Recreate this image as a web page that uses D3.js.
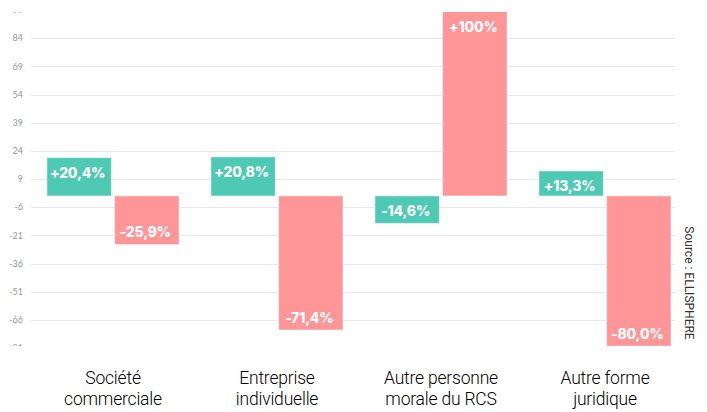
<!DOCTYPE html>
<html>
<head>
<meta charset="utf-8">
<script src="https://cdn.jsdelivr.net/npm/d3@7"></script>
<style>
  body { margin: 0; background: #fff; }
  svg { display: block; }
</style>
</head>
<body>
<svg></svg>
<script>
// data
var categories = [["Société", "commerciale"], ["Entreprise", "individuelle"], ["Autre personne", "morale du RCS"], ["Autre forme", "juridique"]];
var serieTeal = [20.4, 20.8, -14.6, 13.3];
var seriePink = [-25.9, -71.4, 100, -80.0];
var yTicks = [99, 84, 69, 54, 39, 24, 9, -6, -21, -36, -51, -66, -81];
var colors = ["#4ec9b4", "#fe9597"];

var width = 707, height = 412;
var plotTop = 12, plotBottom = 346;

var svg = d3.select("svg")
    .attr("width", width)
    .attr("height", height);

var y = d3.scaleLinear().domain([-81, 99]).range([348, 10.1]);
var x = d3.scaleBand().domain(d3.range(categories.length)).range([31, 687]).paddingInner(0.195).paddingOuter(0.0975);
var xs = d3.scaleBand().domain([0, 1]).range([0, x.bandwidth()]).paddingInner(0.05);

var defs = svg.append("defs");
defs.append("clipPath").attr("id", "plot")
    .append("rect").attr("x", 0).attr("y", plotTop).attr("width", width).attr("height", plotBottom - plotTop);

var plot = svg.append("g").attr("clip-path", "url(#plot)");

// grid
plot.selectAll(".grid")
    .data(yTicks)
    .enter().append("line")
    .attr("class", "grid")
    .attr("x1", 31).attr("x2", 675)
    .attr("y1", function(d) { return Math.round(y(d)) + 0.5; })
    .attr("y2", function(d) { return Math.round(y(d)) + 0.5; })
    .style("stroke", "#e8e8e8")
    .style("stroke-width", 1);

// tick labels
plot.selectAll(".tick")
    .data(yTicks)
    .enter().append("text")
    .attr("class", "tick")
    .attr("x", 23)
    .attr("y", function(d) { return y(d); })
    .attr("dy", "0.35em")
    .attr("text-anchor", "end")
    .style("font-family", "Lato, sans-serif")
    .style("font-size", "9px")
    .style("fill", "#999")
    .text(function(d) { return d; });

var bars = [];
for (var i = 0; i < categories.length; i++) {
    bars.push({c: i, s: 0, v: serieTeal[i]});
    bars.push({c: i, s: 1, v: seriePink[i]});
}

function fmt(v) {
    var a = Math.abs(v);
    var s = a >= 100 ? d3.format(".0f")(a) : d3.format(".1f")(a);
    return (v > 0 ? "+" : "-") + s.replace(".", ",") + "%";
}

plot.selectAll(".bar")
    .data(bars)
    .enter().append("rect")
    .attr("class", "bar")
    .attr("x", function(d) { return x(d.c) + xs(d.s); })
    .attr("y", function(d) { return y(Math.max(0, d.v)); })
    .attr("width", xs.bandwidth())
    .attr("height", function(d) { return Math.abs(y(d.v) - y(0)); })
    .style("fill", function(d) { return colors[d.s]; })
    .style("stroke", "rgba(255,255,255,0.45)")
    .style("stroke-width", 1);

plot.selectAll(".val")
    .data(bars)
    .enter().append("text")
    .attr("class", "val")
    .attr("x", function(d) { return x(d.c) + xs(d.s) + xs.bandwidth() / 2 - 1.5; })
    .attr("y", function(d) {
        if (d.v > 0) return Math.max(y(d.v), plotTop) + 15;
        return Math.min(y(d.v), plotBottom) - 12;
    })
    .attr("dy", "0.35em")
    .attr("text-anchor", "middle")
    .style("font-family", "Inter, sans-serif")
    .style("font-weight", "800")
    .style("font-size", "14px")
    .style("letter-spacing", "-0.2px")
    .style("fill", "#fff")
    .text(function(d) { return fmt(d.v); });

// category labels
var cat = svg.selectAll(".cat")
    .data(categories)
    .enter().append("text")
    .attr("class", "cat")
    .attr("text-anchor", "middle")
    .style("font-family", "Roboto, sans-serif")
    .style("font-weight", "300")
    .style("font-size", "17.5px")
    .style("letter-spacing", "-0.2px")
    .style("fill", "#000");

cat.selectAll("tspan")
    .data(function(d, i) { return d.map(function(t) { return {t: t, i: i}; }); })
    .enter().append("tspan")
    .attr("x", function(d) { return x(d.i) + x.bandwidth() / 2; })
    .attr("y", function(d, j) { return 384 + j * 21; })
    .text(function(d) { return d.t; });

// source
svg.append("text")
    .attr("transform", "translate(685,283) rotate(90)")
    .attr("text-anchor", "middle")
    .style("font-family", "Roboto, sans-serif")
    .style("font-size", "12px")
    .style("fill", "#333")
    .text("Source : ELLISPHERE");
</script>
</body>
</html>
